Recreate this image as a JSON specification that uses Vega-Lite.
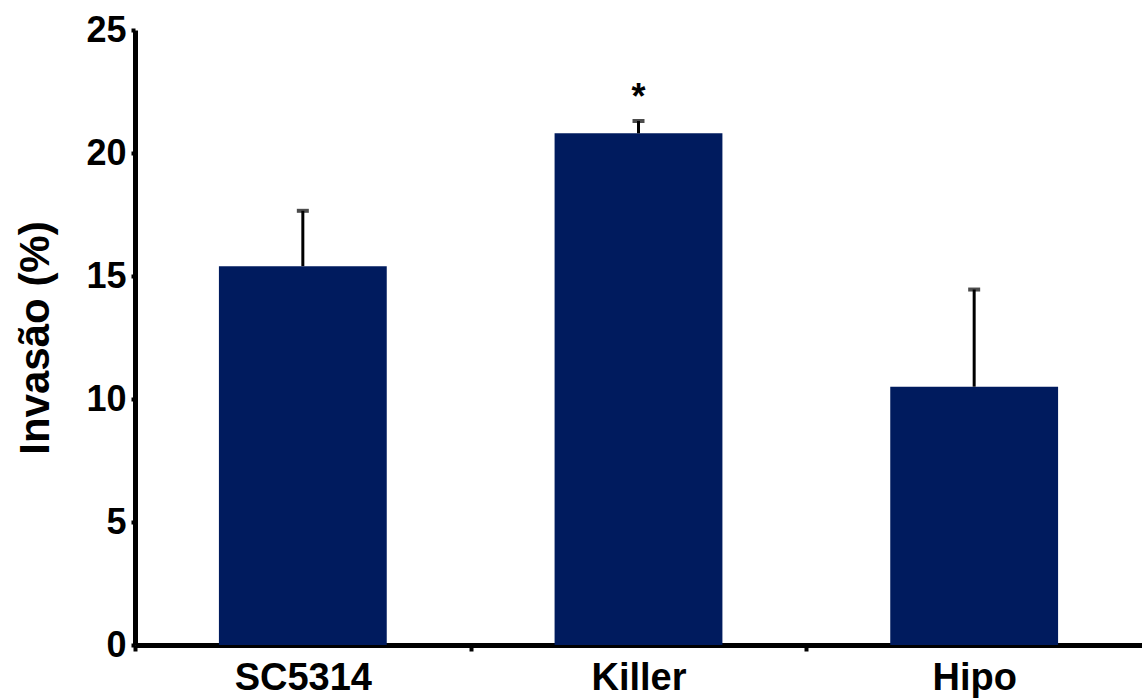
{
  "$schema": "https://vega.github.io/schema/vega-lite/v6.json",
  "width": 1007,
  "height": 615,
  "autosize": {"type": "none"},
  "padding": {"left": 135, "top": 30, "right": 0, "bottom": 55},
  "background": "white",
  "config": {
    "view": {"stroke": null},
    "font": "Liberation Sans"
  },
  "data": {
    "values": [
      {"Grupo": "SC5314", "Invasao": 15.4, "Superior": 17.65, "Sig": ""},
      {"Grupo": "Killer", "Invasao": 20.8, "Superior": 21.3, "Sig": "*"},
      {"Grupo": "Hipo", "Invasao": 10.5, "Superior": 14.45, "Sig": ""}
    ]
  },
  "encoding": {
    "x": {
      "field": "Grupo",
      "type": "nominal",
      "sort": null,
      "scale": {"paddingInner": 0.5, "paddingOuter": 0.25},
      "axis": {
        "title": null,
        "labelAngle": 0,
        "labelFont": "Liberation Sans",
        "labelFontSize": 38,
        "labelFontWeight": "bold",
        "labelColor": "black",
        "labelPadding": 8,
        "bandPosition": 0,
        "tickOffset": -84,
        "labelOffset": 84,
        "tickSize": 6,
        "tickWidth": 4,
        "tickColor": "black",
        "domainWidth": 5,
        "domainColor": "black",
        "grid": false
      }
    }
  },
  "layer": [
    {
      "mark": {"type": "bar", "color": "#001b5e"},
      "encoding": {
        "y": {
          "field": "Invasao",
          "type": "quantitative",
          "scale": {"domain": [0, 25], "nice": false},
          "axis": {
            "title": "Invasão (%)",
            "titleFont": "Liberation Sans",
            "titleFontSize": 42,
            "titleFontWeight": "bold",
            "titleColor": "black",
            "titlePadding": 28,
            "values": [0, 5, 10, 15, 20, 25],
            "labelFont": "Liberation Sans",
            "labelFontSize": 36,
            "labelFontWeight": "bold",
            "labelColor": "black",
            "labelPadding": 5,
            "tickSize": 4,
            "tickWidth": 4,
            "tickColor": "black",
            "domainWidth": 5,
            "domainColor": "black",
            "grid": false
          }
        }
      }
    },
    {
      "mark": {"type": "rule", "color": "black", "strokeWidth": 3},
      "encoding": {
        "y": {"field": "Invasao", "type": "quantitative"},
        "y2": {"field": "Superior"}
      }
    },
    {
      "mark": {"type": "tick", "color": "black", "size": 12, "thickness": 4},
      "encoding": {
        "y": {"field": "Superior", "type": "quantitative"}
      }
    },
    {
      "mark": {"type": "text", "color": "black", "fontSize": 36, "fontWeight": "bold", "baseline": "alphabetic", "dy": -12},
      "encoding": {
        "y": {"field": "Superior", "type": "quantitative"},
        "text": {"field": "Sig"}
      }
    }
  ]
}
